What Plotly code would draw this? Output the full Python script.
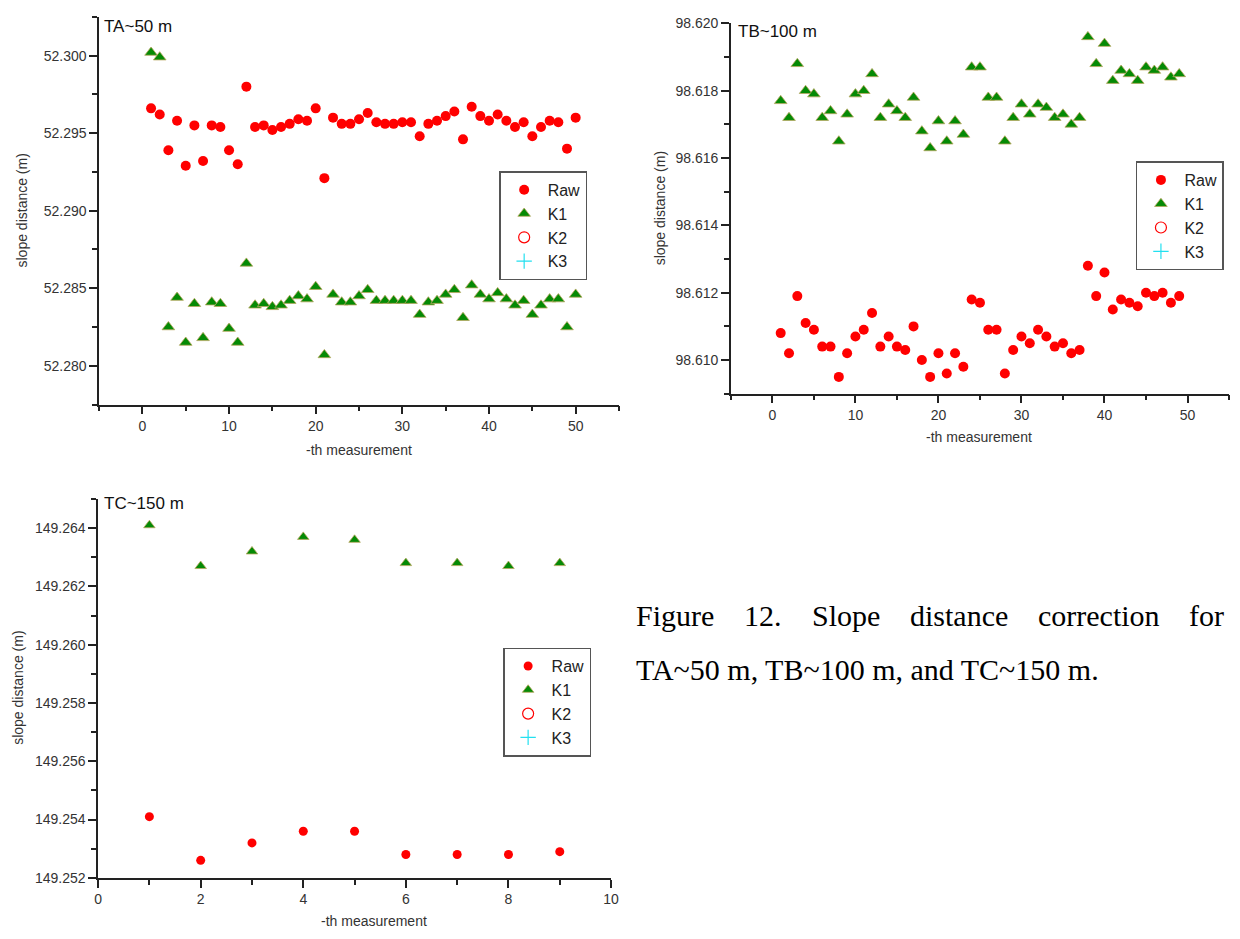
import plotly.graph_objects as go

# ---------------- data ----------------
ta_x = list(range(1, 51))
ta_raw = [52.2966, 52.2962, 52.2939, 52.2958, 52.2929, 52.2955, 52.2932, 52.2955, 52.2954, 52.2939,
          52.2930, 52.2980, 52.2954, 52.2955, 52.2952, 52.2954, 52.2956, 52.2959, 52.2958, 52.2966,
          52.2921, 52.2960, 52.2956, 52.2956, 52.2959, 52.2963, 52.2957, 52.2956, 52.2956, 52.2957,
          52.2957, 52.2948, 52.2956, 52.2958, 52.2961, 52.2964, 52.2946, 52.2967, 52.2961, 52.2958,
          52.2962, 52.2958, 52.2954, 52.2957, 52.2948, 52.2954, 52.2958, 52.2957, 52.2940, 52.2960]
ta_k1 = [52.3002, 52.2999, 52.2825, 52.2844, 52.2815, 52.2840, 52.2818, 52.2841, 52.2840, 52.2824,
         52.2815, 52.2866, 52.2839, 52.2840, 52.2838, 52.2839, 52.2842, 52.2845, 52.2843, 52.2851,
         52.2807, 52.2846, 52.2841, 52.2841, 52.2845, 52.2849, 52.2842, 52.2842, 52.2842, 52.2842,
         52.2842, 52.2833, 52.2841, 52.2842, 52.2846, 52.2849, 52.2831, 52.2852, 52.2846, 52.2843,
         52.2847, 52.2843, 52.2839, 52.2842, 52.2833, 52.2839, 52.2843, 52.2843, 52.2825, 52.2846]

tb_x = list(range(1, 50))
tb_raw = [98.6108, 98.6102, 98.6119, 98.6111, 98.6109, 98.6104, 98.6104, 98.6095, 98.6102, 98.6107,
          98.6109, 98.6114, 98.6104, 98.6107, 98.6104, 98.6103, 98.6110, 98.6100, 98.6095, 98.6102,
          98.6096, 98.6102, 98.6098, 98.6118, 98.6117, 98.6109, 98.6109, 98.6096, 98.6103, 98.6107,
          98.6105, 98.6109, 98.6107, 98.6104, 98.6105, 98.6102, 98.6103, 98.6128, 98.6119, 98.6126,
          98.6115, 98.6118, 98.6117, 98.6116, 98.6120, 98.6119, 98.6120, 98.6117, 98.6119]
tb_k1 = [98.6177, 98.6172, 98.6188, 98.6180, 98.6179, 98.6172, 98.6174, 98.6165, 98.6173, 98.6179,
         98.6180, 98.6185, 98.6172, 98.6176, 98.6174, 98.6172, 98.6178, 98.6168, 98.6163, 98.6171,
         98.6165, 98.6171, 98.6167, 98.6187, 98.6187, 98.6178, 98.6178, 98.6165, 98.6172, 98.6176,
         98.6173, 98.6176, 98.6175, 98.6172, 98.6173, 98.6170, 98.6172, 98.6196, 98.6188, 98.6194,
         98.6183, 98.6186, 98.6185, 98.6183, 98.6187, 98.6186, 98.6187, 98.6184, 98.6185]

tc_x = list(range(1, 10))
tc_raw = [149.2541, 149.2526, 149.2532, 149.2536, 149.2536, 149.2528, 149.2528, 149.2528, 149.2529]
tc_k1 = [149.2641, 149.2627, 149.2632, 149.2637, 149.2636, 149.2628, 149.2628, 149.2627, 149.2628]

panel_titles = ["TA~50 m", "TB~100 m", "TC~150 m"]
series_names = ["Raw", "K1", "K2", "K3"]
y_title = "slope distance (m)"
x_title = "-th measurement"
caption_line1 = ["Figure", "12.", "Slope", "distance", "correction", "for"]
caption_line2 = "TA~50 m, TB~100 m, and TC~150 m."

# ---------------- layout helpers ----------------
W, H = 1240, 939

def px(x):
    return x / W

def py(y):
    return 1 - y / H

SANS = "Liberation Sans, Arial, sans-serif"
SERIF = "Liberation Serif, Times New Roman, serif"
RED = "#ff0000"
GREEN = "#058a05"
CYAN = "#22e0f0"

fig = go.Figure()

panels = [
    dict(x=ta_x, raw=ta_raw, k1=ta_k1, xa="x", ya="y", legend="legend", msize=10),
    dict(x=tb_x, raw=tb_raw, k1=tb_k1, xa="x2", ya="y2", legend="legend2", msize=10),
    dict(x=tc_x, raw=tc_raw, k1=tc_k1, xa="x3", ya="y3", legend="legend3", msize=9),
]

for p in panels:
    fig.add_trace(go.Scatter(
        x=p["x"], y=p["raw"], name=series_names[0], mode="markers",
        marker=dict(symbol="circle", size=p["msize"], color=RED, line=dict(width=0)),
        xaxis=p["xa"], yaxis=p["ya"], legend=p["legend"]))
    fig.add_trace(go.Scatter(
        x=p["x"], y=p["k1"], name=series_names[1], mode="markers",
        marker=dict(symbol="triangle-up", size=p["msize"] + 1, color=GREEN,
                    line=dict(width=0.8, color="#b9a760")),
        xaxis=p["xa"], yaxis=p["ya"], legend=p["legend"]))
    fig.add_trace(go.Scatter(
        x=[None], y=[None], name=series_names[2], mode="markers",
        marker=dict(symbol="circle-open", size=11, color=RED, line=dict(width=1.2, color=RED)),
        xaxis=p["xa"], yaxis=p["ya"], legend=p["legend"]))
    fig.add_trace(go.Scatter(
        x=[None], y=[None], name=series_names[3], mode="markers",
        marker=dict(symbol="cross-thin", size=11, color=CYAN, line=dict(width=1.2, color=CYAN)),
        xaxis=p["xa"], yaxis=p["ya"], legend=p["legend"]))

axis_common = dict(
    showline=True, linecolor="#222", linewidth=1.5, mirror=False,
    showgrid=False, zeroline=False, ticks="outside", ticklen=8, tickwidth=1.5,
    tickcolor="#222", tickfont=dict(family=SANS, size=14, color="#333"),
)

def xaxis(rng, dtick, minor, domain, anchor):
    d = dict(axis_common)
    d.update(range=rng, dtick=dtick, tick0=0, domain=domain, anchor=anchor,
             minor=dict(dtick=minor, tick0=0, ticks="outside", ticklen=5,
                        tickwidth=1.5, tickcolor="#222"))
    return d

def yaxis(rng, dtick, minor, domain, anchor, t0):
    d = dict(axis_common)
    d.update(range=rng, dtick=dtick, tick0=t0, domain=domain, anchor=anchor,
             tickformat=".3f",
             minor=dict(dtick=minor, tick0=t0, ticks="outside", ticklen=5,
                        tickwidth=1.5, tickcolor="#222"))
    return d

legend_common = dict(
    bgcolor="white", bordercolor="#555", borderwidth=1.5,
    font=dict(family=SANS, size=16, color="#222"),
    xanchor="left", yanchor="top", tracegroupgap=0, itemwidth=37,
)

fig.update_layout(
    width=W, height=H,
    margin=dict(l=0, r=0, t=0, b=0),
    paper_bgcolor="white", plot_bgcolor="white",
    xaxis=xaxis([-5, 55], 10, 5, [px(96), px(621)], "y"),
    yaxis=yaxis([52.2775, 52.3025], 0.005, 0.0025, [py(404), py(10)], "x", 52.28),
    xaxis2=xaxis([-5, 55], 10, 5, [px(734), px(1237)], "y2"),
    yaxis2=yaxis([98.609, 98.62002], 0.002, 0.001, [py(393), py(16)], "x2", 98.61),
    xaxis3=xaxis([0, 10], 2, 1, [px(95), px(613)], "y3"),
    yaxis3=yaxis([149.252, 149.265], 0.002, 0.001, [py(885), py(500)], "x3", 149.252),
    legend=dict(legend_common, x=px(500), y=py(167)),
    legend2=dict(legend_common, x=px(1143), y=py(157)),
    legend3=dict(legend_common, x=px(504), y=py(651)),
)

ann = []
# panel titles
for t, (x, y) in zip(panel_titles, [(99, 20), (739, 25), (99, 505)]):
    ann.append(dict(text=t, x=px(x), y=py(y), xref="paper", yref="paper",
                    xanchor="left", yanchor="middle", showarrow=False,
                    font=dict(family=SANS, size=17, color="#111")))
# y titles
for (x, y) in [(18, 207), (662, 205), (14, 692)]:
    ann.append(dict(text=y_title, x=px(x), y=py(y), xref="paper", yref="paper",
                    xanchor="center", yanchor="middle", textangle=-90, showarrow=False,
                    font=dict(family=SANS, size=14, color="#333")))
# x titles
for (x, y) in [(358, 450), (985, 437), (374, 929)]:
    ann.append(dict(text=x_title, x=px(x), y=py(y), xref="paper", yref="paper",
                    xanchor="center", yanchor="middle", showarrow=False,
                    font=dict(family=SANS, size=14, color="#333")))
# caption (justified first line)
word_x = [636, 745, 814, 913, 1042, 1195]
for w, x in zip(caption_line1, word_x):
    ann.append(dict(text=w, x=px(x), y=py(618), xref="paper", yref="paper",
                    xanchor="left", yanchor="middle", showarrow=False,
                    font=dict(family=SERIF, size=30, color="black")))
ann.append(dict(text=caption_line2, x=px(636), y=py(673), xref="paper", yref="paper",
                xanchor="left", yanchor="middle", showarrow=False,
                font=dict(family=SERIF, size=30, color="black")))

fig.update_layout(annotations=ann)

# remove the default page margin so the 1240x939 figure fills the window exactly
page_fix = ("document.documentElement.style.margin='0';"
            "document.documentElement.style.overflow='hidden';"
            "document.body.style.margin='0';"
            "document.body.style.overflow='hidden';")
fig.write_html("out.html", config={"displayModeBar": False}, post_script=page_fix)
